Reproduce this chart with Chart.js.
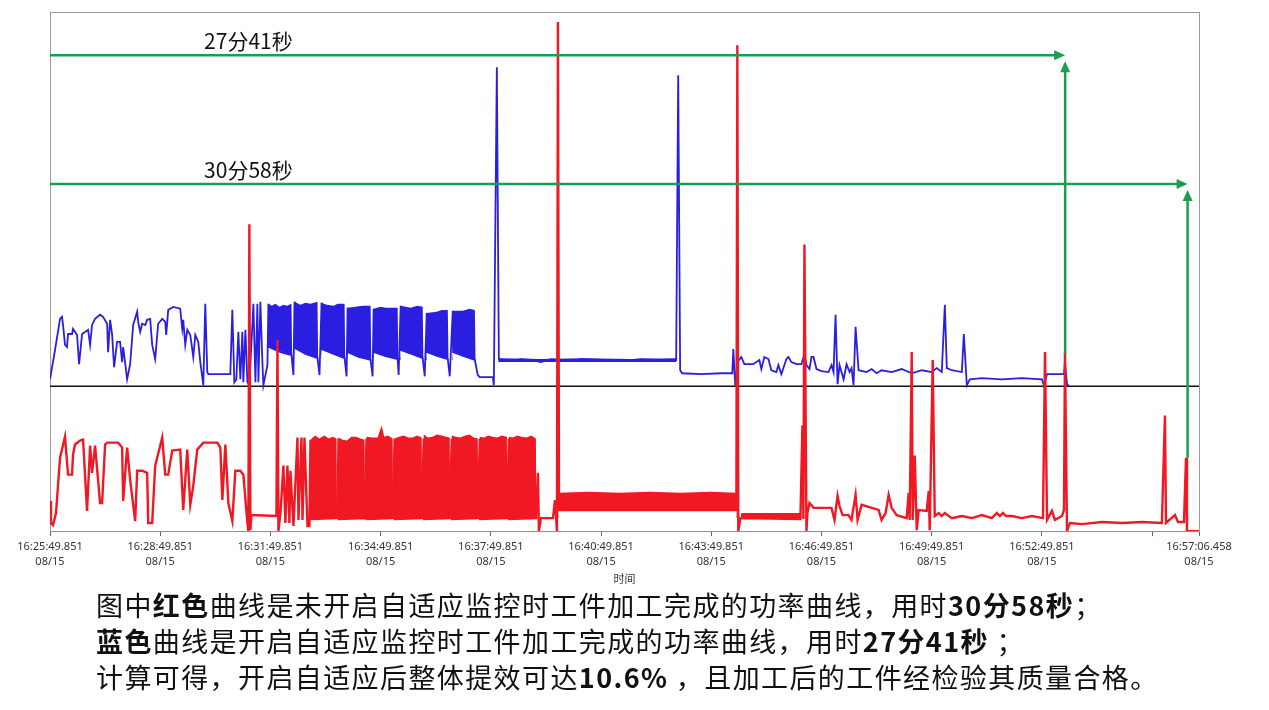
<!DOCTYPE html>
<html>
<head>
<meta charset="utf-8">
<script src="https://cdn.jsdelivr.net/npm/chart.js@4.4.1/dist/chart.umd.min.js"></script>
<style>
  body { margin: 0; background: #fff; width: 1269px; height: 710px; overflow: hidden; position: relative; }
  #wrap { position: absolute; left: 0; top: 0; width: 1269px; height: 600px; }
  #note { position: absolute; left: 96px; top: 587px; font-family: "Noto Sans CJK SC", sans-serif; font-size: 27px; line-height: 36px; letter-spacing: 1.4px; color: #111; white-space: nowrap; }
  #note b { font-weight: 700; }
</style>
</head>
<body>
<div id="wrap"><canvas id="powerChart"></canvas></div>
<div id="note">
  图中<b>红色</b>曲线是未开启自适应监控时工件加工完成的功率曲线，用时<b>30分58秒</b>；<br>
  <b>蓝色</b>曲线是开启自适应监控时工件加工完成的功率曲线，用时<b>27分41秒</b> ；<br>
  计算可得，开启自适应后整体提效可达<b>10.6%</b> ，且加工后的工件经检验其质量合格。
</div>
<script>
// x = 距 16:25:49.851 的秒数, y = 功率
var tickSeconds = [0, 180, 360, 540, 720, 900, 1080, 1260, 1440, 1620, 1800, 1876.607];
var tickTimes = ['16:25:49.851', '16:28:49.851', '16:31:49.851', '16:34:49.851', '16:37:49.851', '16:40:49.851',
    '16:43:49.851', '16:46:49.851', '16:49:49.851', '16:52:49.851', '', '16:57:06.458'];
var tickDate = '08/15';

// 开启自适应（蓝）
var bluePower = [
    [0, 2.3], [1.6, 2.3], [8.2, 12], [16.4, 22.3], [19.6, 23], [21.3, 20.3], [24.5, 13.7], [27.8, 13], [29.5, 17.3],
    [36, 17.3], [37.6, 19], [44.2, 17], [47.5, 7.3], [52.4, 17.3], [57.3, 18], [62.2, 18.7], [65.5, 13.7], [68.7, 20.3],
    [73.6, 22.3], [81.8, 23.7], [86.7, 23], [93.3, 20.7], [94.9, 11.3], [98.2, 22], [101.5, 17], [104.7, 6.3],
    [109.6, 14.7], [114.5, 14.7], [117.8, 8], [119.5, 13], [126, 2.3], [130.9, 7.3], [135.8, 20.3], [142.4, 24.7],
    [144, 21.3], [147.3, 18], [150.5, 20.7], [155.5, 20.3], [158.7, 22], [163.6, 22.3], [166.9, 13.7], [171.8, 9],
    [176.7, 20.7], [183.3, 22.3], [188.2, 21.3], [189.8, 17], [193.1, 25.3], [201.3, 26.3], [212.7, 25.7], [216, 19],
    [217.6, 22], [220.9, 13.7], [224.2, 18.7], [229.1, 17], [234, 9.7], [237.3, 17], [242.2, 14.7], [245.5, 8],
    [250.4, 0.3], [253.6, 27.3], [256.9, 4.7], [258.5, 4], [294.5, 4], [297.8, 25.3], [301.1, 1.3], [304.4, 2.3],
    [307.6, 18], [310.9, 2.3], [314.2, 18], [315.8, 1.3], [319.1, 18.7], [322.4, 1.3], [325.6, 0.3], [332.2, 27.3],
    [335.5, 1.3], [338.7, 27.3], [340.4, 1.3], [343.6, 28], [346.9, 8], [348.5, 0.3], [355.1, 7],
    [356.7, 27.3], [357.3, 13], [376.4, 11.3], [394.4, 10.3], [397.6, 3.7],
    [399.3, 28], [399.9, 12.7], [417.3, 10.7], [436.9, 9.3], [440.2, 3.7],
    [443.5, 27.7], [444.1, 12.3], [463.1, 10.7], [481.1, 9.3], [484.4, 3.3],
    [486, 26], [486.6, 11.3], [504, 9.7], [523.6, 8.7], [526.9, 3.3],
    [528.5, 25.7], [529.1, 11.3], [548.2, 10], [567.8, 9], [569.4, 3.7],
    [572.7, 26.7], [573.3, 12], [590.7, 10.7], [608.7, 9.3], [612, 3.3],
    [615.3, 24.3], [615.9, 11.3], [633.2, 10], [649.7, 9], [652.9, 3.3],
    [657.8, 25], [658.4, 11.3], [675.8, 10], [693.9, 8.7], [698.7, 3.7], [702, 3],
    [723.3, 3], [724.9, 0.3], [729.8, 105.7], [733.1, 9], [752.7, 8.3], [769.1, 9], [785.5, 8.7], [801.9, 8],
    [818.2, 9], [834.6, 8.7], [851, 8.3], [867.4, 9], [900, 8.7], [932.7, 8.3], [965.5, 9], [998, 8.7], [1022.7, 8.7],
    [1026, 103], [1029.2, 5.3], [1032.5, 4.3], [1063.6, 4], [1096.4, 4.3], [1114.4, 4.3], [1116, 12.3], [1119.3, 0],
    [1122.6, 8], [1129.1, 9.7], [1134, 7.3], [1148.7, 7.3], [1158.6, 8.7], [1161.8, 5.7], [1166.7, 9.7], [1173.3, 9],
    [1178.2, 5.3], [1186.4, 4.7], [1189.6, 7], [1194.5, 4], [1202.7, 9], [1206, 9.7], [1210.9, 8], [1219.1, 7.3],
    [1227.3, 7.3], [1232.2, 10.7], [1235.5, 7], [1240.4, 5.7], [1243.7, 9.7], [1247, 9.7], [1251.9, 5.7], [1260.1, 5],
    [1271.5, 4.7], [1276.4, 7], [1279.7, 4.7], [1283, 23.7], [1286.3, 0.7], [1289.5, 7], [1296.1, 2.3], [1301, 7.3],
    [1305.9, 4.7], [1309.1, 6], [1312.4, 0.3], [1315.7, 19.7], [1320.6, 5.3], [1333.7, 4.7], [1341.9, 5.7],
    [1350.1, 4.3], [1358.3, 5.3], [1374.7, 4.7], [1391, 5.7], [1407.4, 4.3], [1423.7, 5.3], [1440.1, 4.7],
    [1448.3, 6], [1456.5, 4.7], [1461.5, 27], [1464.7, 6], [1472.9, 5.3], [1489.3, 4.7], [1492.5, 17.3],
    [1497.4, 0.3], [1502.3, 2.3], [1522, 2.7], [1554.7, 2.3], [1587.4, 2.7], [1620.1, 2.3], [1623.3, 0.3],
    [1628.3, 4], [1656.1, 4], [1657.7, 8], [1661, 0.7], [1664.2, 0]
];
// 蓝色密集振荡段：上下包络（同一组时刻）
var blueBurstTime = [
    356.7, 362, 368.1, 375, 381.2, 387, 394.4, 395.5, 398.5,
    399.3, 409.1, 417.3, 425.5, 436.9, 438, 442.5,
    443.5, 452, 463.1, 470, 481.1, 482.2, 485,
    486, 499, 504, 512, 523.6, 524.7, 527.5,
    528.5, 540, 548.2, 567.8, 568.9, 571.7,
    572.7, 589.1, 600, 608.7, 609.8, 614.3,
    615.3, 631.6, 640, 649.7, 650.8, 656.8,
    657.8, 674.2, 685, 693.9, 695, 732,
    733.1, 800, 870, 950, 1022.7
];
var blueBurstTop = [
    27.3, 26.7, 27.3, 26.3, 27, 26.7, 27.3, 9, 9,
    28, 27, 27.7, 27.3, 28, 8.7, 8.7,
    27.7, 27, 26.7, 27.3, 27.3, 8.7, 8.7,
    26, 26.3, 26.5, 26.7, 26.7, 8.3, 8.3,
    25.7, 26.3, 26, 26, 8.7, 8.7,
    26.7, 26, 26.7, 26.3, 8.7, 8.7,
    24.3, 24.7, 25.3, 25.3, 8.7, 8.7,
    25, 25, 25.7, 25.3, 8.5, 8.5,
    9.3, 9, 9.3, 9, 9.3
];
var blueBurstBottom = [
    13, 12.6, 12.2, 11.7, 11.2, 10.8, 10.3, 9, 9,
    12.7, 11.8, 10.7, 10.2, 9.3, 8.7, 8.7,
    12.3, 11.5, 10.7, 10.2, 9.3, 8.7, 8.7,
    11.3, 10.2, 9.7, 9.3, 8.7, 8.3, 8.3,
    11.3, 10.5, 10, 9, 8.7, 8.7,
    12, 10.7, 10, 9.3, 8.7, 8.7,
    11.3, 10, 9.5, 9, 8.7, 8.7,
    11.3, 10, 9.3, 8.7, 8.5, 8.5,
    8, 8, 8, 8, 8
];

// 未开启自适应（红）
var redPower = [
    [0, 10], [1.6, 2.7], [4.9, 2], [9.8, 6], [16.4, 24.3], [24.5, 31.3], [29.5, 18.7], [36, 18.7], [37.6, 25.3],
    [40.9, 28.7], [49.1, 30], [54, 30.3], [60.5, 6.7], [65.5, 28.3], [68.7, 19.3], [73.6, 28.3], [81.8, 9.3],
    [85.1, 9.3], [90, 28.7], [93.3, 29.3], [111.3, 29.3], [117.8, 27.7], [119.5, 10], [126, 27.7], [130.9, 17],
    [139.1, 3.3], [142.4, 20], [150.5, 20], [158.7, 19.3], [160.4, 2.7], [166.9, 2.7], [171.8, 21.7], [183.3, 31],
    [188.2, 18.7], [193.1, 18.7], [199.6, 26.7], [212.7, 27], [217.6, 7], [224.2, 27], [229.1, 8.7], [234, 15],
    [240.5, 27], [250.4, 29.3], [273.3, 29.3], [278.2, 27.7], [281.5, 10.3], [286.4, 28.7], [291.3, 9.3],
    [297.8, 3.3], [302.7, 20], [310.9, 20], [315.8, 18.7], [322.4, 2.7], [324, 0], [325.6, 101.7], [327.3, 0.3],
    [328.9, 5.3], [369.8, 5], [371.5, 63.3], [373.1, 0], [376.4, 6], [381.2, 21.7], [384.5, 2.7], [387.8, 21.7],
    [391, 2.7], [392.7, 20], [397.6, 1.7], [404.2, 31], [405.8, 3.7], [410.7, 31], [412.4, 3.7], [415.6, 31],
    [420.5, 1.7], [423.7, 1.7],
    [425.5, 30.3], [426.1, 4], [468, 4.3], [469.6, 5],
    [471.3, 30.7], [471.9, 4], [513.8, 4.3],
    [517, 30.7], [517.6, 4], [559.6, 4.3],
    [562.9, 30.7], [563.5, 4], [607.1, 4.3],
    [610.4, 30.7], [611, 4], [652.9, 4.3],
    [656.2, 30.7], [656.8, 4], [698.7, 4.3],
    [702, 30.7], [702.6, 4], [746.2, 4.3],
    [749.5, 30.7], [750.1, 4], [793.6, 4.3],
    [796.9, 19.3], [798.5, 0], [801.8, 4.3], [821.5, 4.3],
    [824.7, 10.3], [828, 0], [829.6, 168.7], [831.3, 11], [832, 7], [1121, 7], [1122.6, 161], [1124.2, 0], [1127.5, 4.3],
    [1225.6, 4], [1228.9, 35], [1230.5, 4], [1232.2, 95], [1235.5, 0], [1237.1, 6], [1240.4, 9.3], [1247, 7.7],
    [1276.4, 7.7], [1281.3, 3.7], [1286.3, 11.7], [1289.5, 8.3], [1294.4, 5.3], [1304.2, 5.3], [1309.1, 3.7],
    [1315.7, 12], [1319, 3.7], [1325.5, 8.7], [1337, 8], [1353.3, 7], [1358.2, 3.7], [1364.8, 6], [1369.7, 12],
    [1374.6, 7.7], [1382.8, 5.3], [1399.2, 4.3], [1402.4, 12.7], [1404.1, 3.7], [1407.4, 59.3], [1409, 3.7],
    [1412.3, 25], [1415.6, 0.3], [1418.8, 7], [1431.9, 6.7], [1435.2, 13.3], [1436.8, 0.3], [1441.7, 56.7],
    [1445, 5], [1451.5, 6], [1456.5, 5], [1461.4, 6], [1472.9, 4.3], [1489.3, 5], [1505.6, 4.3], [1522, 5.3],
    [1538.3, 4.3], [1546.5, 6], [1551.4, 5], [1556.3, 6], [1561.3, 5], [1571, 5], [1587.4, 4.3], [1603.8, 5],
    [1621.8, 4.3], [1625.1, 59.3], [1628.4, 3.7], [1636.4, 6.7], [1641.3, 3.7], [1652.8, 5], [1656.1, 7],
    [1657.7, 59.3], [1661, 0], [1665.8, 2.7], [1685.5, 2.3], [1718.2, 3], [1750.9, 2.7], [1783.6, 3], [1816, 2.7],
    [1821, 38.3], [1822.7, 2.7], [1837.4, 5.3], [1842.3, 3], [1852.1, 3], [1855.4, 24.3], [1857, 0], [1876.6, 0]
];
// 红色密集振荡段：上下包络（同一组时刻）
var redBurstTime = [
    425.5, 433, 440, 448, 455, 462, 468, 468.8, 470.5,
    471.3, 478, 485, 492, 500, 507, 513.8, 514.6, 516.2,
    517, 527, 535, 541.6, 546, 552, 559.6, 560.4, 562.1,
    562.9, 570, 578, 585, 592, 600, 607.1, 607.9, 609.6,
    610.4, 617, 625, 632, 640, 646, 652.9, 653.7, 655.4,
    656.2, 663, 670, 678, 685, 692, 698.7, 699.5, 701.2,
    702, 709, 716, 723, 730, 738, 746.2, 747, 748.7,
    749.5, 756, 763, 770, 778, 786, 793.6, 794.4, 830.5,
    831.3, 880, 930, 980, 1030, 1080, 1121, 1121.8, 1128.2,
    1129, 1227
];
var redBurstTop = [
    30.3, 31.7, 30.7, 31.7, 30.7, 31.3, 30.7, 4.3, 4.3,
    31, 30.3, 30, 31.3, 31.3, 30.7, 30.3, 4.3, 4.3,
    31.3, 31, 31, 35, 31.3, 31.7, 30.7, 4.3, 4.3,
    30.7, 31.3, 31.7, 31, 31, 31.7, 31, 4.3, 4.3,
    32, 31, 31.3, 32, 31.7, 31.3, 31, 4.3, 4.3,
    31.7, 31.3, 31, 31.7, 32, 31, 30.7, 4.3, 4.3,
    31.3, 31, 31.7, 31.3, 31, 31.7, 31.3, 4.3, 4.3,
    31.3, 31, 31.7, 31.3, 31, 31.7, 30.7, 4.3, 4.3,
    12.7, 13, 12.7, 13, 12.7, 13, 12.7, 4.3, 4.3,
    6, 6
];
var redBurstBottom = [
    4, 4, 4, 4, 4, 4, 4, 4.3, 4.3,
    4, 4, 4, 4, 4, 4, 4, 4.3, 4.3,
    4, 4, 4, 4, 4, 4, 4, 4.3, 4.3,
    4, 4, 4, 4, 4, 4, 4, 4.3, 4.3,
    4, 4, 4, 4, 4, 4, 4, 4.3, 4.3,
    4, 4, 4, 4, 4, 4, 4, 4.3, 4.3,
    4, 4, 4, 4, 4, 4, 4, 4.3, 4.3,
    4, 4, 4, 4, 4, 4, 4, 4.3, 4.3,
    7, 7, 7, 7, 7, 7, 7, 4.3, 4.3,
    4.3, 4.3
];

// 完成时间标注：蓝 27分41秒，红 30分58秒
var finishSeconds = [1658, 1858];
var finishLabels = ['27分41秒', '30分58秒'];
var arrowLevels = [157.7, 115];
var arrowBases = [58.7, 24.3];
var labelSecond = 324;

var BLUE = '#2a1fe0';
var RED = '#f01822';
var GREEN = '#1a9e52';
var NONE = 'rgba(0,0,0,0)';

function pairUp(times, values) {
    return times.map(function (t, i) { return { x: t, y: values[i] }; });
}

function arrowHead(ctx, x, y, dir) {
    ctx.beginPath();
    if (dir === 'right') {
        ctx.moveTo(x, y); ctx.lineTo(x - 11, y - 5); ctx.lineTo(x - 11, y + 5);
    } else {
        ctx.moveTo(x, y); ctx.lineTo(x - 5, y + 11); ctx.lineTo(x + 5, y + 11);
    }
    ctx.closePath();
    ctx.fill();
}

var framePlugin = {
    id: 'frame',
    beforeDatasetsDraw: function (chart) {
        var ctx = chart.ctx, a = chart.chartArea;
        var y0 = chart.scales.yBlue.getPixelForValue(0);
        ctx.save();
        ctx.strokeStyle = '#9a9a9a';
        ctx.lineWidth = 1;
        ctx.strokeRect(a.left + 0.5, a.top + 0.5, a.right - a.left, a.bottom - a.top);
        ctx.strokeStyle = '#111';
        ctx.lineWidth = 1.5;
        ctx.beginPath();
        ctx.moveTo(a.left, y0);
        ctx.lineTo(a.right, y0);
        ctx.stroke();
        ctx.restore();
    },
    afterDatasetsDraw: function (chart) {
        var ctx = chart.ctx, a = chart.chartArea;
        var xs = chart.scales.x, ys = chart.scales.yRed;
        ctx.save();
        ctx.strokeStyle = GREEN;
        ctx.fillStyle = GREEN;
        ctx.lineWidth = 2.5;
        finishSeconds.forEach(function (s, i) {
            var x = xs.getPixelForValue(s);
            var yl = ys.getPixelForValue(arrowLevels[i]);
            var yb = ys.getPixelForValue(arrowBases[i]);
            ctx.beginPath();
            ctx.moveTo(a.left, yl);
            ctx.lineTo(x - 8, yl);
            ctx.stroke();
            arrowHead(ctx, x, yl, 'right');
            ctx.beginPath();
            ctx.moveTo(x, yb);
            ctx.lineTo(x, yl + 14);
            ctx.stroke();
            arrowHead(ctx, x, yl + 6, 'up');
        });
        ctx.fillStyle = '#111';
        ctx.font = '21px "Noto Sans CJK SC", sans-serif';
        ctx.textAlign = 'center';
        ctx.textBaseline = 'middle';
        finishLabels.forEach(function (t, i) {
            ctx.fillText(t, xs.getPixelForValue(labelSecond), ys.getPixelForValue(arrowLevels[i]) - 14);
        });
        ctx.restore();
    }
};

new Chart(document.getElementById('powerChart'), {
    type: 'line',
    data: {
        datasets: [
            { data: redPower, yAxisID: 'yRed', borderColor: RED, borderWidth: 2.4, pointRadius: 0, fill: false },
            { data: pairUp(redBurstTime, redBurstTop), yAxisID: 'yRed', borderColor: NONE, backgroundColor: RED, borderWidth: 1, pointRadius: 0, fill: '+1' },
            { data: pairUp(redBurstTime, redBurstBottom), yAxisID: 'yRed', borderColor: NONE, borderWidth: 1, pointRadius: 0, fill: false },
            { data: bluePower, yAxisID: 'yBlue', borderColor: BLUE, borderWidth: 1.8, pointRadius: 0, fill: false },
            { data: pairUp(blueBurstTime, blueBurstTop), yAxisID: 'yBlue', borderColor: NONE, backgroundColor: BLUE, borderWidth: 1, pointRadius: 0, fill: '+1' },
            { data: pairUp(blueBurstTime, blueBurstBottom), yAxisID: 'yBlue', borderColor: NONE, borderWidth: 1, pointRadius: 0, fill: false }
        ]
    },
    options: {
        responsive: true, maintainAspectRatio: false, animation: false,
        layout: { padding: { left: 50, right: 70, top: 12, bottom: 13 } },
        plugins: { legend: { display: false }, tooltip: { enabled: false } },
        scales: {
            x: {
                type: 'linear', min: 0, max: tickSeconds[tickSeconds.length - 1],
                afterBuildTicks: function (axis) {
                    axis.ticks = tickSeconds.map(function (v) { return { value: v }; });
                },
                grid: { display: true, drawOnChartArea: false, drawTicks: true, tickLength: 5, color: '#666' },
                border: { display: true, color: '#555', width: 1 },
                ticks: {
                    autoSkip: false, maxRotation: 0, color: '#333', padding: 3,
                    font: { family: '"Noto Sans", "Noto Sans CJK SC", sans-serif', size: 11, lineHeight: 1.35 },
                    callback: function (v, i) {
                        return tickTimes[i] ? [tickTimes[i], tickDate] : '';
                    }
                },
                title: {
                    display: true, text: '时间', color: '#333', padding: { top: 0, bottom: 2 },
                    font: { family: '"Noto Sans CJK SC", sans-serif', size: 11 }
                }
            },
            yRed: { display: false, min: 0, max: 172 },
            yBlue: { display: false, min: -48, max: 124 }
        }
    },
    plugins: [framePlugin]
});
</script>
</body>
</html>
